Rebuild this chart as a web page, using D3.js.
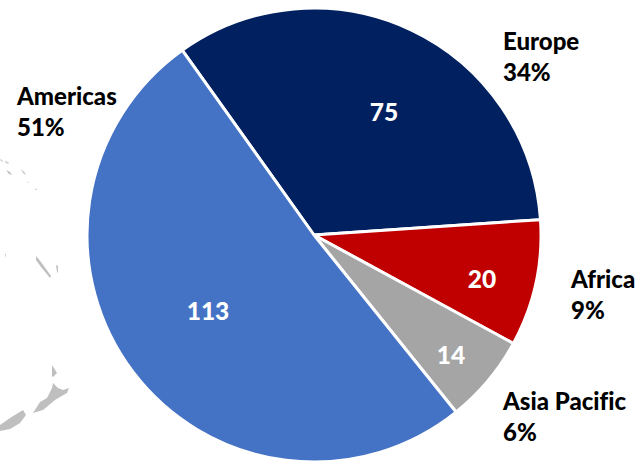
<!DOCTYPE html>
<html>
<head>
<meta charset="utf-8">
<script src="https://cdn.jsdelivr.net/npm/d3@7/dist/d3.min.js"></script>
<style>
html,body{margin:0;padding:0;background:#fff}
svg{display:block}
text{font-family:Lato,"Open Sans",sans-serif;font-weight:900;font-variant-ligatures:none}
</style>
</head>
<body>
<svg id="chart" width="641" height="462"></svg>
<script>
const regions = ["Europe", "Africa", "Asia Pacific", "Americas"];
const counts = [75, 20, 14, 113];
const shares = ["34%", "9%", "6%", "51%"];
const colors = ["#002060", "#C00000", "#A5A5A5", "#4472C4"];

const width = 641, height = 462;
const cx = 314, cy = 235, radius = 227;
const svg = d3.select("#chart");

// Faint coastline fragments of the world map lying behind the pie
const coast = [
  "M0,425 L10,418 L23,410 L26,415 L20,423 L10,429 L0,431Z",
  "M33,413 L40,402 L47,398 L52,388 L53,383 L58,388 L63,390 L69,388 L67,393 L60,397 L55,400 L43,410Z",
  "M52,365 L57,373 L53,377 L52,376Z",
  "M36,256 L41,262 L46,269 L51,276 L50,278 L46,273 L41,267 L36,260Z",
  "M56,265 L58,266 L58,273 L57,272Z",
  "M5,254 L6,254 L5,258 L5,258Z",
  "M6,170 L10,172 L12,175 L9,174Z",
  "M21,169 L25,173 L26,175 L23,173Z",
  "M0,159 L2,160 L3,162 L1,161Z",
  "M5,161 L9,163 L8,164 L5,162Z",
  "M26,181 L29,183 L28,183Z",
  "M34,188 L38,190 L36,190Z"
];
svg.append("g").selectAll("path").data(coast).join("path")
  .attr("d", d => d)
  .attr("fill", "#BFBFBF");

// Pie slices run clockwise from the upper left
const startAngle = -35.5 * Math.PI / 180;
const pie = d3.pie().sort(null)
  .startAngle(startAngle)
  .endAngle(startAngle + 2 * Math.PI);
const arcs = pie(counts);
const arc = d3.arc().innerRadius(0).outerRadius(radius);
svg.append("g").attr("transform", `translate(${cx},${cy})`)
  .selectAll("path").data(arcs).join("path")
  .attr("d", arc)
  .attr("fill", (d, i) => colors[i])
  .attr("stroke", "#fff")
  .attr("stroke-width", 3)
  .attr("stroke-linejoin", "round");

// Value labels, hand-placed inside each slice
const valueX = d3.scaleOrdinal().domain(regions).range([384, 482, 451, 208]);
const valueY = d3.scaleOrdinal().domain(regions).range([112, 279, 355, 311]);
svg.append("g").selectAll("text").data(regions).join("text")
  .attr("x", d => valueX(d))
  .attr("y", d => valueY(d))
  .attr("text-anchor", "middle")
  .attr("dy", "0.35em")
  .attr("font-size", 24.5)
  .attr("fill", "#fff")
  .text((d, i) => counts[i]);

// Region name and share, two lines, placed outside the circle
const outerX = d3.scaleOrdinal().domain(regions).range([503, 571, 503, 17]);
const outerY = d3.scaleOrdinal().domain(regions).range([50, 288, 410, 105]);
const outer = svg.append("g").selectAll("text").data(regions).join("text")
  .attr("x", d => outerX(d))
  .attr("y", d => outerY(d))
  .attr("font-size", 24)
  .attr("fill", "#000");
outer.append("tspan").text(d => d);
outer.append("tspan")
  .attr("x", d => outerX(d))
  .attr("dy", 31)
  .text((d, i) => shares[i]);
</script>
</body>
</html>
